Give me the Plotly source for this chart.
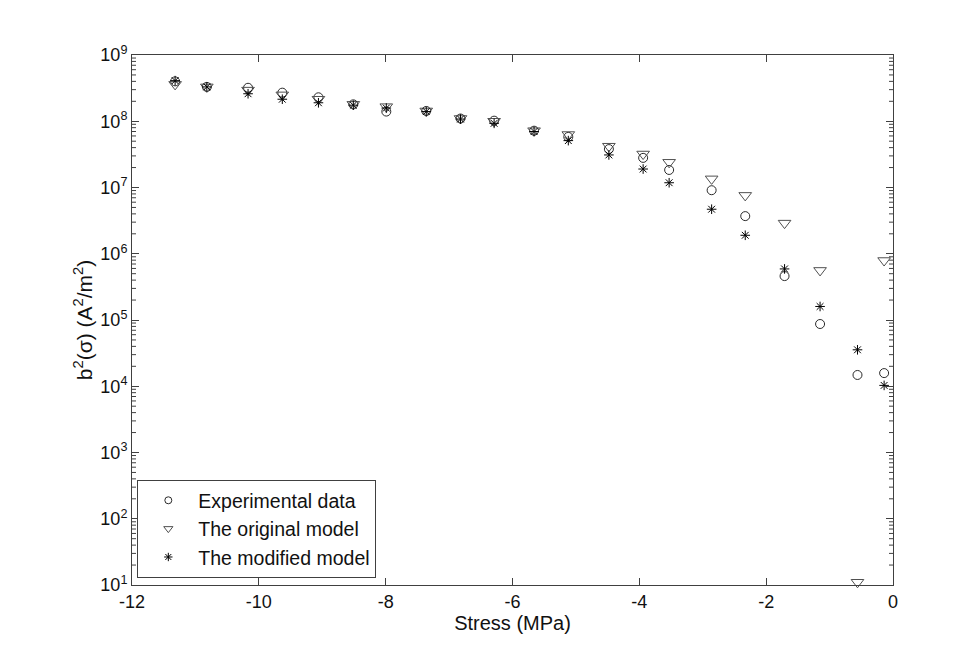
import math
import plotly.graph_objects as go

stress = [-11.32, -10.82, -10.17, -9.63, -9.06, -8.51, -7.99, -7.36, -6.82, -6.29,
          -5.66, -5.12, -4.48, -3.94, -3.53, -2.86, -2.33, -1.71, -1.15, -0.56, -0.14]

experimental = [4.0e8, 3.3e8, 3.2e8, 2.7e8, 2.3e8, 1.8e8, 1.4e8, 1.43e8, 1.1e8, 1.02e8,
                7.2e7, 5.8e7, 3.8e7, 2.8e7, 1.84e7, 9.1e6, 3.7e6, 4.6e5, 8.7e4, 1.48e4, 1.58e4]

original = [3.6e8, 3.3e8, 2.95e8, 2.5e8, 2.15e8, 1.8e8, 1.66e8, 1.43e8, 1.1e8, 1.0e8,
            7.2e7, 6.3e7, 4.2e7, 3.2e7, 2.4e7, 1.35e7, 7.6e6, 2.9e6, 5.6e5, 11, 7.9e5]

modified = [4.1e8, 3.3e8, 2.6e8, 2.15e8, 1.9e8, 1.75e8, 1.58e8, 1.4e8, 1.08e8, 9.3e7,
            7.0e7, 5.1e7, 3.1e7, 1.9e7, 1.18e7, 4.7e6, 1.9e6, 5.9e5, 1.6e5, 3.55e4, 1.03e4]

series_names = ["Experimental data", "The original model", "The modified model"]

x_ticks = [-12, -10, -8, -6, -4, -2, 0]
x_ticktext = ["-12", "-10", "-8", "-6", "-4", "-2", "0"]
y_exponents = [1, 2, 3, 4, 5, 6, 7, 8, 9]
y_ticks = [10 ** e for e in y_exponents]
y_ticktext = ["10<sup>%d</sup>" % e for e in y_exponents]
y_minor = [m * 10 ** e for e in y_exponents[:-1] for m in range(2, 10)]

styles = [
    dict(symbol="circle-open", size=9, color="#2a2a2a", lw=1, leg=7),
    dict(symbol="triangle-down-open", size=11, color="#505050", lw=1, leg=8),
    dict(symbol="asterisk-open", size=8, color="#000000", lw=1, leg=7),
]

fig = go.Figure()
for name, vals, st in zip(series_names, [experimental, original, modified], styles):
    fig.add_trace(go.Scatter(x=stress, y=vals, mode="markers", name=name, showlegend=False,
                             marker=dict(symbol=st["symbol"], size=st["size"], color=st["color"],
                                         line=dict(width=st["lw"], color=st["color"])),
                             cliponaxis=False))
# legend entries (smaller symbols, as in the reference legend)
for name, st in zip(series_names, styles):
    fig.add_trace(go.Scatter(x=[None], y=[None], mode="markers", name=name, showlegend=True,
                             marker=dict(symbol=st["symbol"], size=st["leg"], color=st["color"],
                                         line=dict(width=1, color=st["color"]))))

fam = "Liberation Sans, Arial, sans-serif"
tick_font = dict(family=fam, size=18, color="#111111")
title_font = dict(family=fam, size=20, color="#111111")
axc = "#404040"

W, H = 979, 654
ML, MR, MT, MB = 132, 86, 55, 69
y_lo, y_hi = 1, 9
minor_frac = 4.0 / (W - ML - MR)

# minor log ticks, inside, on left and right edges (positioned as fraction of the y domain)
for v in y_minor:
    fy = (math.log10(v) - y_lo) / (y_hi - y_lo)
    fig.add_shape(type="line", xref="paper", yref="paper", x0=0, x1=minor_frac, y0=fy, y1=fy,
                  line=dict(color=axc, width=1), layer="above")
    fig.add_shape(type="line", xref="paper", yref="paper", x0=1 - minor_frac, x1=1, y0=fy, y1=fy,
                  line=dict(color=axc, width=1), layer="above")

fig.update_layout(
    width=W, height=H,
    margin=dict(l=ML, r=MR, t=MT, b=MB),
    paper_bgcolor="white", plot_bgcolor="white",
    font=tick_font,
    showlegend=True,
    legend=dict(x=0.007, y=0.013, xanchor="left", yanchor="bottom",
                bordercolor=axc, borderwidth=1, bgcolor="white",
                font=dict(family=fam, size=19.5, color="#111111"),
                tracegroupgap=0, itemsizing="trace", itemwidth=50),
    xaxis=dict(range=[-12, 0], tickvals=x_ticks, ticktext=x_ticktext, ticks="inside", ticklen=7,
               showline=True, linecolor=axc, linewidth=1, mirror="ticks",
               showgrid=False, zeroline=False, tickcolor=axc, tickfont=tick_font,
               title=dict(text="Stress (MPa)", font=title_font, standoff=1)),
    yaxis=dict(type="log", range=[y_lo, y_hi], tickvals=y_ticks, ticktext=y_ticktext,
               ticks="inside", ticklen=7, showline=True, linecolor=axc,
               linewidth=1, mirror="ticks", showgrid=False, zeroline=False,
               tickcolor=axc, tickfont=tick_font,
               title=dict(text="b<sup>2</sup>(σ) (A<sup>2</sup>/m<sup>2</sup>)",
                          font=dict(family=fam, size=21, color="#111111"), standoff=2)),
)

fig.write_html("out.html")
